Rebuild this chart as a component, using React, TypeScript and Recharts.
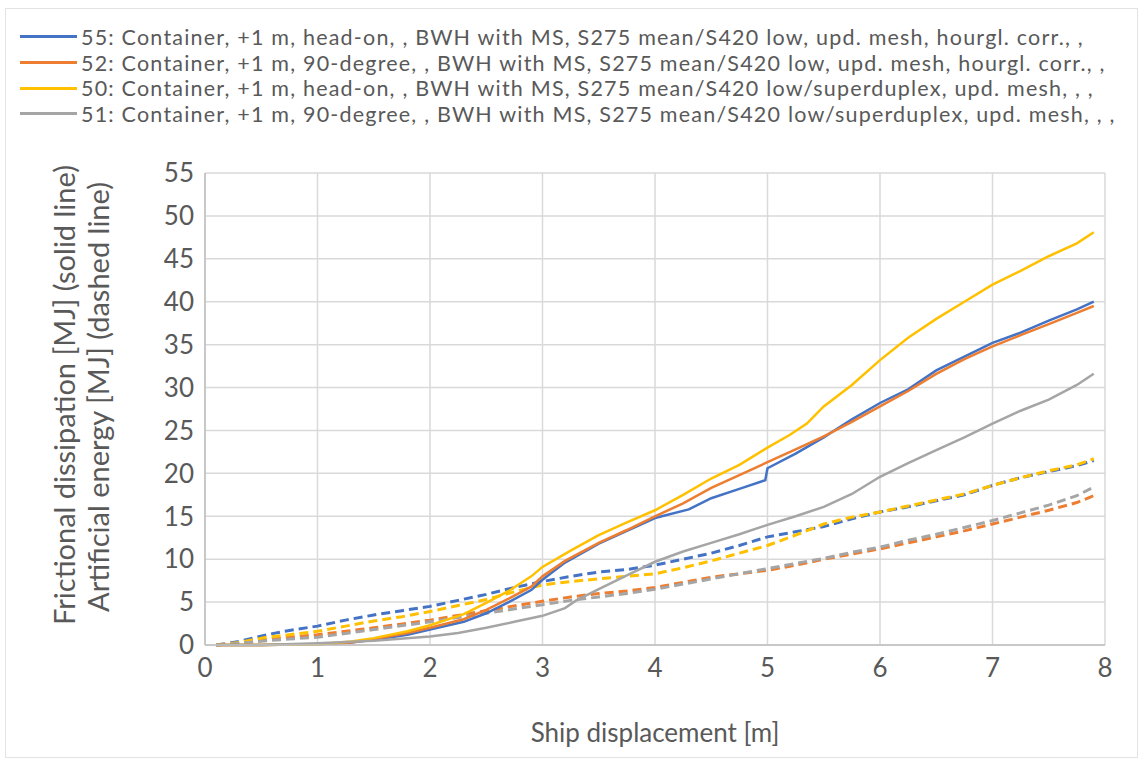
import React from "react";
import { LineChart, Line, XAxis, YAxis, CartesianGrid, Label } from "recharts";

type Pt = { x: number; y: number };
const pts = (arr: number[][]): Pt[] => arr.map(([x, y]) => ({ x, y }));

const X_TICKS = [0, 1, 2, 3, 4, 5, 6, 7, 8];
const Y_TICKS = [0, 5, 10, 15, 20, 25, 30, 35, 40, 45, 50, 55];

// frictional dissipation (solid)
const FRIC_55 = pts([[0.1,0],[0.5,0],[1,0.1],[1.3,0.3],[1.5,0.6],[1.8,1.2],[2,1.8],[2.3,2.7],[2.5,3.7],[2.7,5],[2.9,6.4],[3,7.6],[3.2,9.6],[3.5,11.8],[3.75,13.3],[4,14.8],[4.3,15.8],[4.5,17.1],[4.75,18.2],[4.98,19.2],[5.0,20.6],[5.25,22.3],[5.5,24.2],[5.75,26.3],[6,28.2],[6.25,29.8],[6.5,32.0],[6.75,33.6],[7,35.2],[7.25,36.4],[7.5,37.8],[7.75,39.1],[7.9,40.0]]);
const FRIC_52 = pts([[0.1,0],[0.5,0],[1,0.1],[1.3,0.3],[1.5,0.7],[1.8,1.4],[2,2.0],[2.3,3.0],[2.5,4.1],[2.7,5.4],[2.9,6.8],[3,8.0],[3.2,9.8],[3.5,11.9],[3.75,13.4],[4,15.0],[4.25,16.5],[4.5,18.3],[4.75,19.8],[5,21.3],[5.25,22.8],[5.5,24.3],[5.75,26.0],[6,27.8],[6.25,29.6],[6.5,31.6],[6.75,33.3],[7,34.8],[7.25,36.1],[7.5,37.4],[7.75,38.7],[7.9,39.5]]);
const FRIC_50 = pts([[0.1,0],[0.5,0],[1,0.1],[1.3,0.4],[1.5,0.8],[1.8,1.6],[2,2.3],[2.3,3.6],[2.5,4.9],[2.7,6.3],[2.9,8.0],[3,9.1],[3.25,11.0],[3.5,12.8],[3.75,14.3],[4,15.7],[4.25,17.5],[4.5,19.4],[4.75,21.0],[5,23.0],[5.2,24.5],[5.35,25.8],[5.5,27.8],[5.75,30.3],[6,33.2],[6.25,35.8],[6.5,38.0],[6.75,40.0],[7,42.0],[7.25,43.6],[7.5,45.3],[7.75,46.8],[7.9,48.1]]);
const FRIC_51 = pts([[0.1,0],[0.5,0],[1,0.2],[1.5,0.5],[2,1.0],[2.25,1.4],[2.5,2.0],[2.75,2.7],[3,3.4],[3.2,4.3],[3.3,5.2],[3.5,6.5],[3.75,8.1],[4,9.7],[4.25,10.9],[4.5,11.9],[4.75,12.9],[5,14.0],[5.25,15.0],[5.5,16.1],[5.75,17.6],[6,19.6],[6.25,21.2],[6.5,22.7],[6.75,24.2],[7,25.8],[7.25,27.3],[7.5,28.6],[7.75,30.3],[7.9,31.6]]);

// artificial energy (dashed)
const ART_55 = pts([[0.1,0],[0.3,0.4],[0.55,1.2],[0.75,1.7],[1,2.2],[1.25,2.9],[1.5,3.5],[1.75,4.0],[2,4.5],[2.25,5.2],[2.5,5.9],[2.75,6.7],[3,7.4],[3.25,8.0],[3.5,8.5],[3.75,8.8],[4,9.3],[4.25,10.0],[4.5,10.7],[4.75,11.6],[5,12.6],[5.25,13.2],[5.5,13.8],[5.75,14.7],[6,15.5],[6.25,16.1],[6.5,16.8],[6.75,17.5],[7,18.6],[7.25,19.5],[7.5,20.2],[7.75,20.9],[7.9,21.5]]);
const ART_50 = pts([[0.1,0],[0.3,0.3],[0.55,0.9],[0.75,1.2],[1,1.6],[1.25,2.2],[1.5,2.8],[1.75,3.3],[2,3.9],[2.25,4.6],[2.5,5.3],[2.75,6.2],[3,7.0],[3.25,7.4],[3.5,7.7],[3.75,8.0],[4,8.3],[4.25,9.0],[4.5,9.8],[4.75,10.7],[5,11.6],[5.25,12.8],[5.5,14.1],[5.75,14.9],[6,15.5],[6.25,16.2],[6.5,16.9],[6.75,17.6],[7,18.6],[7.25,19.5],[7.5,20.3],[7.75,21.0],[7.9,21.7]]);
const ART_52 = pts([[0.1,0],[0.3,0.2],[0.55,0.6],[0.75,0.9],[1,1.2],[1.5,2.0],[2,2.9],[2.5,4.0],[3,5.1],[3.25,5.6],[3.5,6.0],[3.75,6.3],[4,6.7],[4.25,7.3],[4.5,7.9],[4.75,8.3],[5,8.7],[5.25,9.3],[5.5,10.0],[5.75,10.6],[6,11.2],[6.25,11.9],[6.5,12.6],[6.75,13.3],[7,14.1],[7.25,14.9],[7.5,15.7],[7.75,16.6],[7.9,17.4]]);
const ART_51 = pts([[0.1,0],[0.3,0.2],[0.55,0.5],[0.75,0.7],[1,0.9],[1.5,1.8],[2,2.7],[2.5,3.7],[3,4.7],[3.25,5.2],[3.5,5.6],[3.75,6.0],[4,6.5],[4.25,7.1],[4.5,7.7],[4.75,8.3],[5,8.9],[5.25,9.5],[5.5,10.1],[5.75,10.8],[6,11.4],[6.25,12.2],[6.5,12.9],[6.75,13.7],[7,14.5],[7.25,15.4],[7.5,16.3],[7.75,17.4],[7.9,18.4]]);

const LEGEND_ITEMS = [
  { label: "55: Container, +1 m, head-on, , BWH with MS, S275 mean/S420 low, upd. mesh, hourgl. corr., ,", color: "#4472C4" },
  { label: "52: Container, +1 m, 90-degree, , BWH with MS, S275 mean/S420 low, upd. mesh, hourgl. corr., ,", color: "#ED7D31" },
  { label: "50: Container, +1 m, head-on, , BWH with MS, S275 mean/S420 low/superduplex, upd. mesh, , ,", color: "#FFC000" },
  { label: "51: Container, +1 m, 90-degree, , BWH with MS, S275 mean/S420 low/superduplex, upd. mesh, , ,", color: "#A5A5A5" },
];

const FONT = "Lato, 'Open Sans', sans-serif";
const TEXT = "#595959";

const LegendBox = () => (
  <div style={{ position: "absolute", left: 20, top: 24, fontFamily: FONT, fontSize: 21.5, letterSpacing: 1.2, lineHeight: "24px", color: TEXT }}>
    {LEGEND_ITEMS.map((it) => (
      <div key={it.label} style={{ display: "flex", alignItems: "center", height: 25.7, whiteSpace: "nowrap" }}>
        <span style={{ display: "inline-block", width: 57, height: 3, background: it.color, marginRight: 4 }} />
        <span>{it.label}</span>
      </div>
    ))}
  </div>
);

const YTitle = () => (
  <g fontFamily={FONT} fontSize={29} fill={TEXT}>
    <text transform="translate(75,395) rotate(-90)" textAnchor="middle">
      Frictional dissipation [MJ] (solid line)
    </text>
    <text transform="translate(109,397) rotate(-90)" textAnchor="middle">
      Artificial energy [MJ] (dashed line)
    </text>
  </g>
);

export default function App() {
  const solid = [
    { d: FRIC_55, c: "#4472C4" },
    { d: FRIC_52, c: "#ED7D31" },
    { d: FRIC_50, c: "#FFC000" },
    { d: FRIC_51, c: "#A5A5A5" },
  ];
  const dashed = [
    { d: ART_55, c: "#4472C4" },
    { d: ART_52, c: "#ED7D31" },
    { d: ART_50, c: "#FFC000" },
    { d: ART_51, c: "#A5A5A5" },
  ];
  return (
    <div style={{ position: "absolute", left: 0, top: 0, width: 1141, height: 762, background: "#fff" }}>
      <div style={{ position: "absolute", left: 5, top: 8, width: 1131, height: 748, border: "1px solid #e3e3e3" }} />
      <LegendBox />
      <LineChart width={1141} height={762} margin={{ top: 173, right: 36, left: 110, bottom: 0 }}>
        <CartesianGrid stroke="#d9d9d9" strokeWidth={1.5} />
        <XAxis
          type="number"
          dataKey="x"
          domain={[0, 8]}
          ticks={X_TICKS}
          height={117}
          tick={{ fill: TEXT, fontSize: 26, fontFamily: FONT }}
          tickLine={false}
          axisLine={{ stroke: "#bfbfbf", strokeWidth: 1.5 }}
          tickMargin={8}
          allowDuplicatedCategory={false}
        >
          <Label value="Ship displacement [m]" position="insideBottom" offset={20} fill={TEXT} fontSize={26} fontFamily={FONT} />
        </XAxis>
        <YAxis
          type="number"
          domain={[0, 55]}
          ticks={Y_TICKS}
          width={95}
          tick={{ fill: TEXT, fontSize: 26, fontFamily: FONT }}
          tickLine={false}
          axisLine={{ stroke: "#bfbfbf", strokeWidth: 1.5 }}
          tickMargin={5}
        >
          <Label content={() => <YTitle />} />
        </YAxis>
        {dashed.map((s, i) => (
          <Line key={"a" + i} data={s.d} dataKey="y" type="linear" stroke={s.c} strokeWidth={3} strokeDasharray="9 5" dot={false} isAnimationActive={false} />
        ))}
        {solid.map((s, i) => (
          <Line key={"f" + i} data={s.d} dataKey="y" type="linear" stroke={s.c} strokeWidth={2.5} dot={false} isAnimationActive={false} />
        ))}
      </LineChart>
    </div>
  );
}
